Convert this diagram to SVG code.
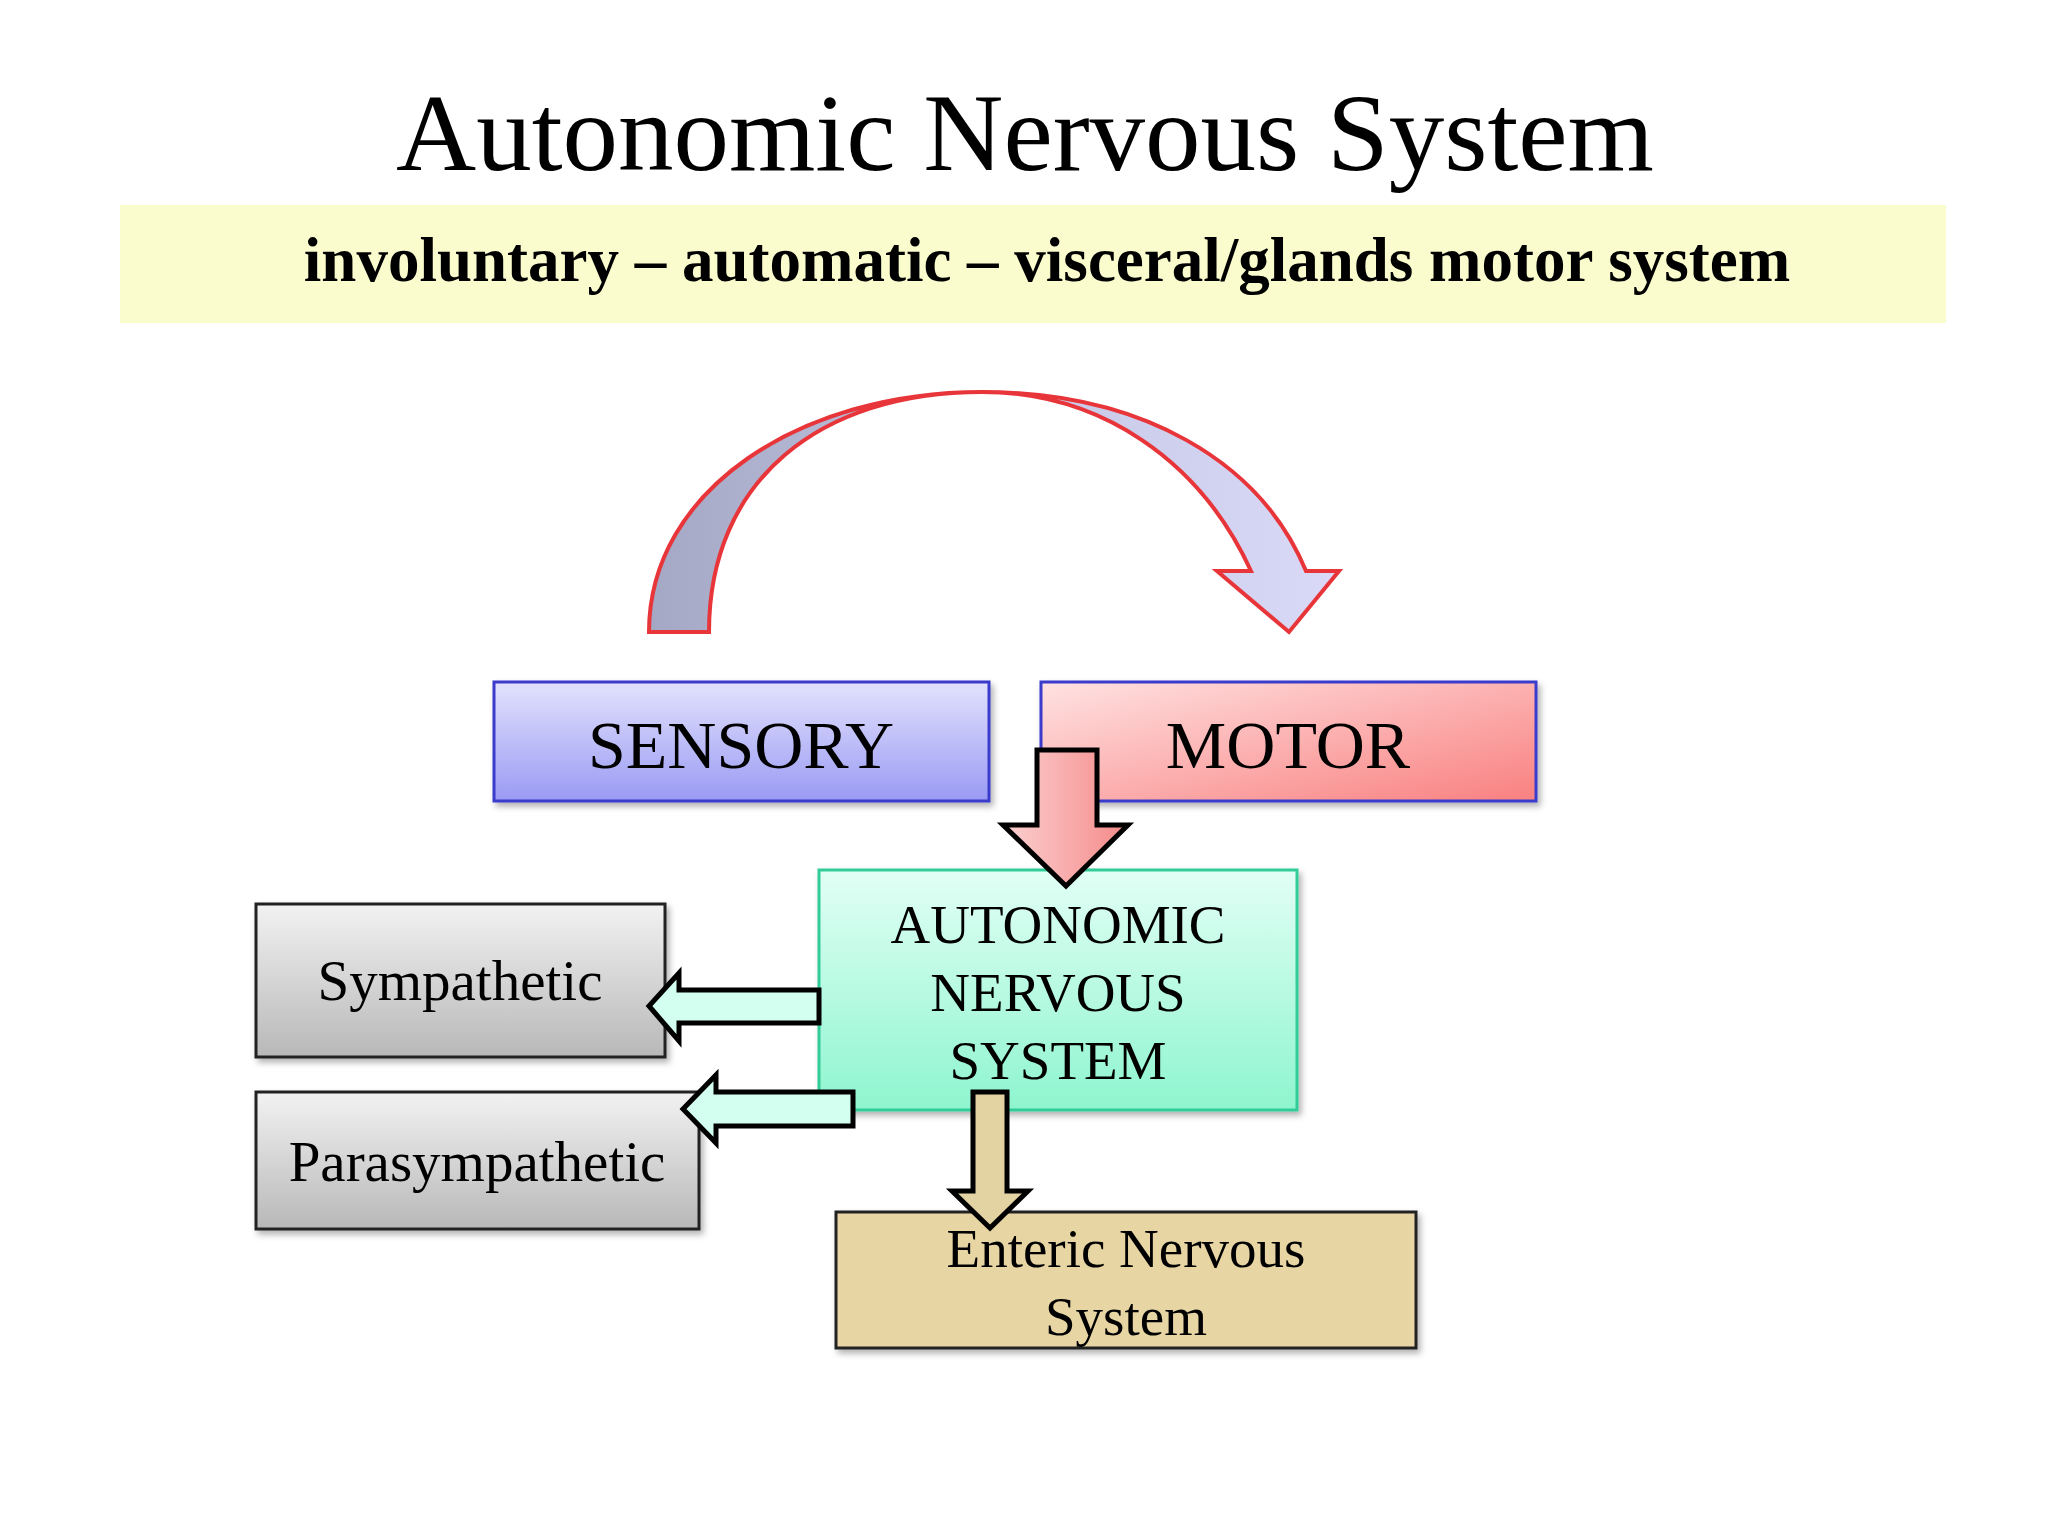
<svg xmlns="http://www.w3.org/2000/svg" width="2048" height="1536" viewBox="0 0 2048 1536">
<defs>
<linearGradient id="gS" x1="0" y1="0" x2="0" y2="1"><stop offset="0" stop-color="#e2e2fd"/><stop offset="1" stop-color="#9a9af4"/></linearGradient>
<linearGradient id="gM" x1="0" y1="0" x2="1" y2="1"><stop offset="0" stop-color="#ffe2e2"/><stop offset="1" stop-color="#f98080"/></linearGradient>
<linearGradient id="gA" x1="0" y1="0" x2="0" y2="1"><stop offset="0" stop-color="#e2fff5"/><stop offset="1" stop-color="#8ef5cf"/></linearGradient>
<linearGradient id="gG" x1="0" y1="0" x2="0" y2="1"><stop offset="0" stop-color="#f2f2f2"/><stop offset="1" stop-color="#b8b8b8"/></linearGradient>
<linearGradient id="gR" x1="0" y1="0" x2="1" y2="0"><stop offset="0" stop-color="#fcd0d0"/><stop offset="1" stop-color="#f58a8a"/></linearGradient>
<linearGradient id="gArc" x1="0" y1="0" x2="1" y2="0"><stop offset="0" stop-color="#a4a8c4"/><stop offset="0.5" stop-color="#c4c6e4"/><stop offset="1" stop-color="#dadaf8"/></linearGradient>
<filter id="sh" x="-5%" y="-5%" width="115%" height="120%"><feDropShadow dx="3" dy="4" stdDeviation="3" flood-color="#000" flood-opacity="0.3"/></filter>
<style>
.t{font-family:"Liberation Serif","Times New Roman",serif;fill:#000;text-anchor:middle}
.bx{stroke-width:3;filter:url(#sh)}
.ar{stroke:#000;stroke-width:5;stroke-linejoin:miter}
</style>
</defs>
<rect width="2048" height="1536" fill="#fff"/>
<g id="title"><text class="t" x="1025" y="170" font-size="111">Autonomic Nervous System</text></g>
<g id="subtitle"><rect x="120" y="205" width="1826" height="118" fill="#fbfccd"/>
<text class="t" x="1047" y="281" font-size="63" font-weight="bold">involuntary – automatic – visceral/glands motor system</text></g>
<g id="sensory"><rect class="bx" x="494" y="682" width="495" height="119" fill="url(#gS)" stroke="#3a3acc"/><text class="t" x="741" y="768" font-size="68">SENSORY</text></g>
<g id="motor"><rect class="bx" x="1041" y="682" width="495" height="119" fill="url(#gM)" stroke="#3a3acc"/><text class="t" x="1288" y="768" font-size="68">MOTOR</text></g>
<g id="ans"><rect class="bx" x="819" y="870" width="478" height="240" fill="url(#gA)" stroke="#33cc99"/>
<text class="t" x="1058" y="943" font-size="55">AUTONOMIC</text><text class="t" x="1058" y="1011" font-size="55">NERVOUS</text><text class="t" x="1058" y="1079" font-size="55">SYSTEM</text></g>
<g id="sympathetic"><rect class="bx" x="256" y="904" width="409" height="153" fill="url(#gG)" stroke="#222"/><text class="t" x="460" y="1000" font-size="57">Sympathetic</text></g>
<g id="parasympathetic"><rect class="bx" x="256" y="1092" width="443" height="137" fill="url(#gG)" stroke="#222"/><text class="t" x="477" y="1181" font-size="57">Parasympathetic</text></g>
<g id="enteric"><rect class="bx" x="836" y="1212" width="580" height="136" fill="#e8d5a4" stroke="#222"/>
<text class="t" x="1126" y="1267" font-size="55">Enteric Nervous</text><text class="t" x="1126" y="1335" font-size="55">System</text></g>
<g id="connectors">
<path d="M649,632 C649,490 800,392 982,392 C1140,392 1260,460 1306,571 L1339,571 L1289,632 L1217,571 L1251,571 C1200,460 1100,392 982,392 C820,392 709,480 709,632 Z" fill="url(#gArc)" stroke="#e8353a" stroke-width="4"/>
<path class="ar" d="M1037,750 L1097,750 L1097,825 L1128,825 L1066,886 L1003,825 L1037,825 Z" fill="url(#gR)"/>
<path class="ar" d="M819,990 L679,990 L679,973 L649,1006 L679,1041 L679,1023 L819,1023 Z" fill="#d2fff0"/>
<path class="ar" d="M853,1092 L716,1092 L716,1075 L683,1109 L716,1143 L716,1126 L853,1126 Z" fill="#d2fff0"/>
<path class="ar" d="M973,1092 L1007,1092 L1007,1191 L1028,1191 L990,1228 L952,1191 L973,1191 Z" fill="#e3d3a2"/>
</g>
</svg>
